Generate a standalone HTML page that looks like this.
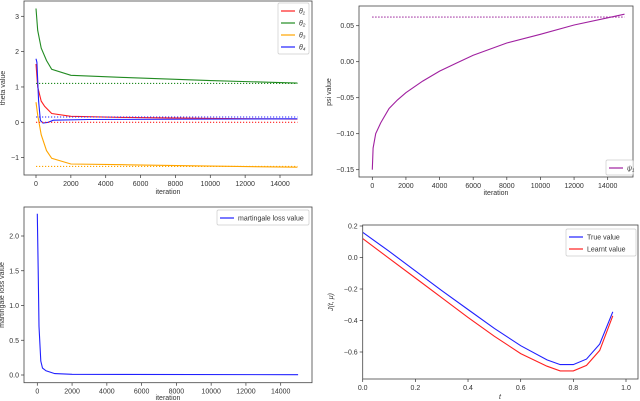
<!DOCTYPE html>
<html><head><meta charset="utf-8"><style>
body{margin:0;background:#fff;width:640px;height:401px;overflow:hidden}
svg{display:block;font-family:"Liberation Sans","DejaVu Sans",sans-serif}
</style></head><body>
<svg id="s" width="640" height="401" viewBox="0 0 640 401"></svg>
<script>
// Panel 1 data
const itA=[0,100,300,500,900,2000,5000,10000,15000];
const theta1=[1.65,1.0,0.6,0.45,0.25,0.17,0.14,0.11,0.09];
const itB=[0,100,300,600,900,2000,5000,10000,15000];
const theta2=[3.22,2.6,2.1,1.75,1.5,1.33,1.27,1.18,1.11];
const theta3=[0.57,0.2,-0.35,-0.8,-1.02,-1.18,-1.2,-1.24,-1.27];
const itC=[0,50,150,250,400,700,1000,3000,15000];
const theta4=[1.8,1.7,0.6,0.05,-0.02,0.0,0.06,0.08,0.1];
const thetaTrue=[0,1.1,-1.25,0.15];
const p1YTicks=[-1,0,1,2,3];
const iterTicks=[0,2000,4000,6000,8000,10000,12000,14000];
// Panel 2 data
const itPsi=[0,50,200,500,1000,1500,2000,3000,4000,5000,6000,8000,10000,12000,14000,15000];
const psi=[-0.15,-0.12,-0.1,-0.085,-0.065,-0.053,-0.043,-0.027,-0.013,-0.002,0.009,0.026,0.038,0.051,0.061,0.066];
const psiTrue=0.062;
const p2YTicks=[-0.15,-0.10,-0.05,0.00,0.05];
// Panel 3 data
const itLoss=[0,50,100,200,300,500,1000,2000,15000];
const loss=[2.32,1.5,0.7,0.2,0.1,0.06,0.02,0.01,0.005];
const p3YTicks=[0,0.5,1.0,1.5,2.0];
// Panel 4 data
const tVals=[0,0.1,0.2,0.3,0.4,0.5,0.6,0.7,0.75,0.8,0.85,0.9,0.95];
const trueVal=[0.16,0.04,-0.085,-0.21,-0.33,-0.45,-0.56,-0.65,-0.68,-0.68,-0.645,-0.55,-0.345];
const learnt=[0.12,-0.005,-0.13,-0.255,-0.38,-0.5,-0.61,-0.69,-0.72,-0.72,-0.685,-0.59,-0.37];
const p4YTicks=[-0.6,-0.4,-0.2,0.0,0.2];
const p4XTicks=[0,0.2,0.4,0.6,0.8,1.0];

const S=document.getElementById('s');const NS='http://www.w3.org/2000/svg';
function mk(tag,at,par){const e=document.createElementNS(NS,tag);for(const k in at)e.setAttribute(k,at[k]);(par||S).appendChild(e);return e;}
function fmt(v,d){return (v<0?'\u2212':'')+Math.abs(v).toFixed(d);}
function panel(name,box,xd,xr,yd,yr){
  const g=mk('g',{});
  const X=v=>xr[0]+(v-xd[0])/(xd[1]-xd[0])*(xr[1]-xr[0]);
  const Y=v=>yr[0]+(v-yd[0])/(yd[1]-yd[0])*(yr[1]-yr[0]);
  return {g,X,Y,box};
}
function frame(p){const b=p.box;const r=mk('rect',{x:b[0],y:b[1],width:b[2]-b[0],height:b[3]-b[1],fill:'none',stroke:'#444','stroke-width':0.8},p.g);}
function xt(p,ticks,lab){const b=p.box;ticks.forEach((v,i)=>{const x=p.X(v);mk('line',{x1:x,x2:x,y1:b[3],y2:b[3]+3,stroke:'#333','stroke-width':0.7},p.g);const t=mk('text',{x:x,y:b[3]+11,'font-size':7,'text-anchor':'middle',fill:'#333'},p.g);t.textContent=lab[i];});}
function yt(p,ticks,lab){const b=p.box;ticks.forEach((v,i)=>{const y=p.Y(v);mk('line',{x1:b[0]-3,x2:b[0],y1:y,y2:y,stroke:'#333','stroke-width':0.7},p.g);const t=mk('text',{x:b[0]-5,y:y+2.5,'font-size':7,'text-anchor':'end',fill:'#333'},p.g);t.textContent=lab[i];});}
function line(p,xs,ys,col,name,w){const d=xs.map((x,i)=>(i?'L':'M')+p.X(x).toFixed(1)+' '+p.Y(ys[i]).toFixed(1)).join('');const e=mk('path',{d:d,fill:'none',stroke:col,'stroke-width':w||1.1},p.g);}
function hdot(p,x0,x1,v,col,name){const e=mk('line',{x1:p.X(x0),x2:p.X(x1),y1:p.Y(v),y2:p.Y(v),stroke:col,'stroke-width':1.1,'stroke-dasharray':'1.2 1.8'},p.g);}
function label(p,x,y,txt,rot,name,style){const t=mk('text',{x:x,y:y,'font-size':7,'text-anchor':'middle',fill:'#333',transform:rot?`rotate(-90 ${x} ${y})`:'','font-style':style||'normal'},p.g);t.textContent=txt;}
function legend(p,x,y,w,items,name){const lg=mk('g',{},p.g);
  mk('rect',{x:x,y:y,width:w,height:items.length*12+3,fill:'#fff',stroke:'#ccc','stroke-width':0.7,rx:1.5},lg);
  items.forEach((it,i)=>{const yy=y+8+i*12;const l=mk('line',{x1:x+3,x2:x+17,y1:yy,y2:yy,stroke:it[1],'stroke-width':1.2},lg);const t=mk('text',{x:x+21,y:yy+2.5,'font-size':7,fill:'#333','font-style':it[2]||'normal'},lg);t.textContent=it[0];});}
const itLab=iterTicks.map(String);

// Panel 1
let p=panel('theta-panel',[24,1,312,175],[0,14000],[36,280],[0,3],[122.3,16.3]);
line(p,itB,theta2,'#228B22','theta2-line');line(p,itA,theta1,'#ff2020','theta1-line');line(p,itB,theta3,'#ffa500','theta3-line');line(p,itC,theta4,'#2020ff','theta4-line');
hdot(p,0,15000,thetaTrue[0],'#ff2020','theta1-true');hdot(p,0,15000,thetaTrue[1],'#228B22','theta2-true');hdot(p,0,15000,thetaTrue[2],'#ffa500','theta3-true');hdot(p,0,15000,thetaTrue[3],'#2020ff','theta4-true');
frame(p);xt(p,iterTicks,itLab);yt(p,p1YTicks,p1YTicks.map(v=>fmt(v,0)));
label(p,168,194,'iteration',0,'x-axis-title');label(p,5,88,'theta value',1,'y-axis-title');
legend(p,278,3,31,[['θ₁','#ff2020','italic'],['θ₂','#228B22','italic'],['θ₃','#ffa500','italic'],['θ₄','#2020ff','italic']],'theta-legend');

// Panel 2
p=panel('psi-panel',[359,6,633,177],[0,14000],[372.3,607.7],[0,0.05],[61.7,25.7]);
hdot(p,0,15000,psiTrue,'#8B008B','psi-true');line(p,itPsi,psi,'#a020a0','psi-line');
frame(p);xt(p,iterTicks,itLab);yt(p,p2YTicks,p2YTicks.map(v=>fmt(v,2)));
label(p,496,195,'iteration',0,'x-axis-title');label(p,331,92,'psi value',1,'y-axis-title');
legend(p,606,160,27,[['ψ₁','#a020a0','italic']],'psi-legend');

// Panel 3
p=panel('loss-panel',[24,207,312,382.7],[0,14000],[37.3,280.7],[0,2],[375,236]);
line(p,itLoss,loss,'#2020ff','loss-line');
frame(p);xt(p,iterTicks,itLab);yt(p,p3YTicks,p3YTicks.map(v=>fmt(v,1)));
label(p,168,400,'iteration',0,'x-axis-title');label(p,4,295,'martingale loss value',1,'y-axis-title');
legend(p,217,210,92,[['martingale loss value','#2020ff']],'loss-legend');

// Panel 4
p=panel('value-function-panel',[362.7,225,638,379],[0,1],[362.7,626],[0,0.2],[257.5,226]);
line(p,tVals,trueVal,'#2020ff','true-value-line');line(p,tVals,learnt,'#ff2020','learnt-value-line');
frame(p);xt(p,p4XTicks,p4XTicks.map(v=>v.toFixed(1)));yt(p,p4YTicks,p4YTicks.map(v=>fmt(v,1)));
label(p,500,399,'t',0,'x-axis-title','italic');label(p,333,302,'J(t, μ)',1,'y-axis-title','italic');
legend(p,566,229,70,[['True value','#2020ff'],['Learnt value','#ff2020']],'value-legend');
</script>
</body></html>
